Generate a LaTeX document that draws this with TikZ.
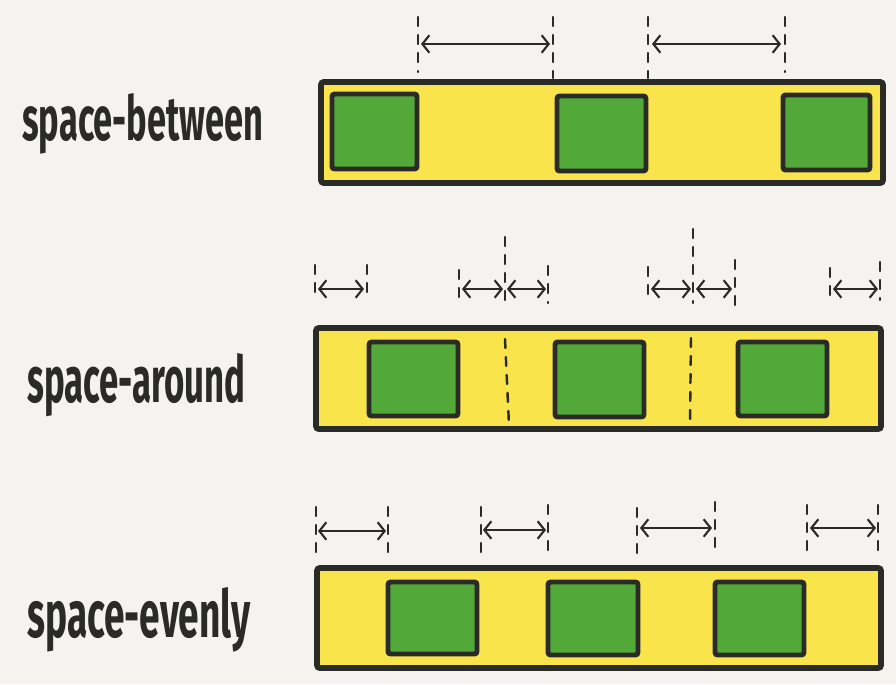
\documentclass[tikz,border=0pt]{standalone}
\usepackage{fontspec}
\setmainfont{Fira Sans}
\usetikzlibrary{arrows.meta,fit}
\definecolor{bg}{HTML}{F4F3F0}
\definecolor{ylw}{HTML}{FAE44C}
\definecolor{grn}{HTML}{52A838}
\definecolor{ink}{HTML}{2A2A26}
\newlength\pxu
\setlength\pxu{0.02cm}
\newcommand\guideline[4]{\coordinate (#1t) at (#2,#3); \coordinate (#1b) at (#2,#4); \draw[guide] (#1t) -- (#1b);}
\newcommand\dimarrow[4]{\coordinate (#1l) at (#2,#4); \coordinate (#1r) at (#3,#4); \draw[dimline] (#1l) -- (#1r);}
\tikzset{
  container/.style={draw=ink, fill=ylw, line width=3.2pt, rounded corners=1.5pt, inner sep=0pt},
  item/.style={draw=ink, fill=grn, line width=2.8pt, rounded corners=1.5pt, inner sep=0pt},
  guide/.style={draw=ink, line width=1.4pt, line cap=round, dash pattern=on 9\pxu off 9\pxu},
  dimline/.style={draw=ink, line width=1.2pt, line cap=round, {Straight Barb[length=4pt,width=10pt,line width=1.2pt]}-{Straight Barb[length=4pt,width=10pt,line width=1.2pt]}},
  lab/.style={text=ink, inner sep=0pt, anchor=base west, font=\bfseries}
}
\begin{document}
\begin{tikzpicture}[x=0.02cm,y=-0.02cm]
\useasboundingbox (0,0) rectangle (896,684);
\fill[bg] (0,0) rectangle (896,684);

% labels
\node[lab] (l1) at (22,140) {\resizebox{241\pxu}{47\pxu}{space-between}};
\node[lab] (l2) at (27,402) {\resizebox{218\pxu}{49\pxu}{space-around}};
\node[lab] (l3) at (27,637) {\resizebox{223\pxu}{50\pxu}{space-evenly}};

% row 1: space-between
\node[container, fit={(321,82) (883,183)}] (c1) {};
\node[item, fit={(332,94) (417,169)}] (b11) {};
\node[item, fit={(557,96) (646,171)}] (b12) {};
\node[item, fit={(783,95) (870,170)}] (b13) {};
\guideline{g11}{418}{17}{72}
\guideline{g12}{553}{17}{78}
\guideline{g13}{648}{17}{78}
\guideline{g14}{785}{17}{72}
\dimarrow{a11}{421}{550}{44}
\dimarrow{a12}{652}{781}{44}

% row 2: space-around
\node[container, fit={(316,328) (881,429)}] (c2) {};
\node[item, fit={(369,342) (458,416)}] (b21) {};
\node[item, fit={(555,342) (644,417)}] (b22) {};
\node[item, fit={(738,342) (827,416)}] (b23) {};
\guideline{g21}{315}{265}{300}
\guideline{g22}{367}{265}{300}
\guideline{g23}{459}{270}{300}
\guideline{g24}{505}{237}{302}
\guideline{g25}{548}{266}{303}
\guideline{g26}{648}{267}{300}
\guideline{g27}{693}{229}{303}
\guideline{g28}{735}{260}{310}
\guideline{g29}{830}{268}{300}
\guideline{g20}{880}{262}{300}
\coordinate (m1t) at (505,339); \coordinate (m1b) at (509,425);
\draw[guide] (m1t) -- (m1b);
\coordinate (m2t) at (691,338); \coordinate (m2b) at (690,420);
\draw[guide] (m2t) -- (m2b);
\dimarrow{a21}{318}{364}{289}
\dimarrow{a22}{462}{503}{289}
\dimarrow{a23}{507}{546}{289}
\dimarrow{a24}{651}{691}{289}
\dimarrow{a25}{696}{732}{289}
\dimarrow{a26}{833}{878}{289}

% row 3: space-evenly
\node[container, fit={(317,568) (881,668)}] (c3) {};
\node[item, fit={(388,582) (477,654)}] (b31) {};
\node[item, fit={(548,582) (638,655)}] (b32) {};
\node[item, fit={(715,582) (804,655)}] (b33) {};
\guideline{g31}{316}{507}{557}
\guideline{g32}{388}{507}{560}
\guideline{g33}{481}{507}{558}
\guideline{g34}{548}{505}{557}
\guideline{g35}{637}{508}{558}
\guideline{g36}{715}{502}{555}
\guideline{g37}{807}{505}{557}
\guideline{g38}{878}{505}{557}
\dimarrow{a31}{318}{386}{531}
\dimarrow{a32}{483}{546}{530}
\dimarrow{a33}{640}{712}{528}
\dimarrow{a34}{810}{876}{528}
\end{tikzpicture}
\end{document}
